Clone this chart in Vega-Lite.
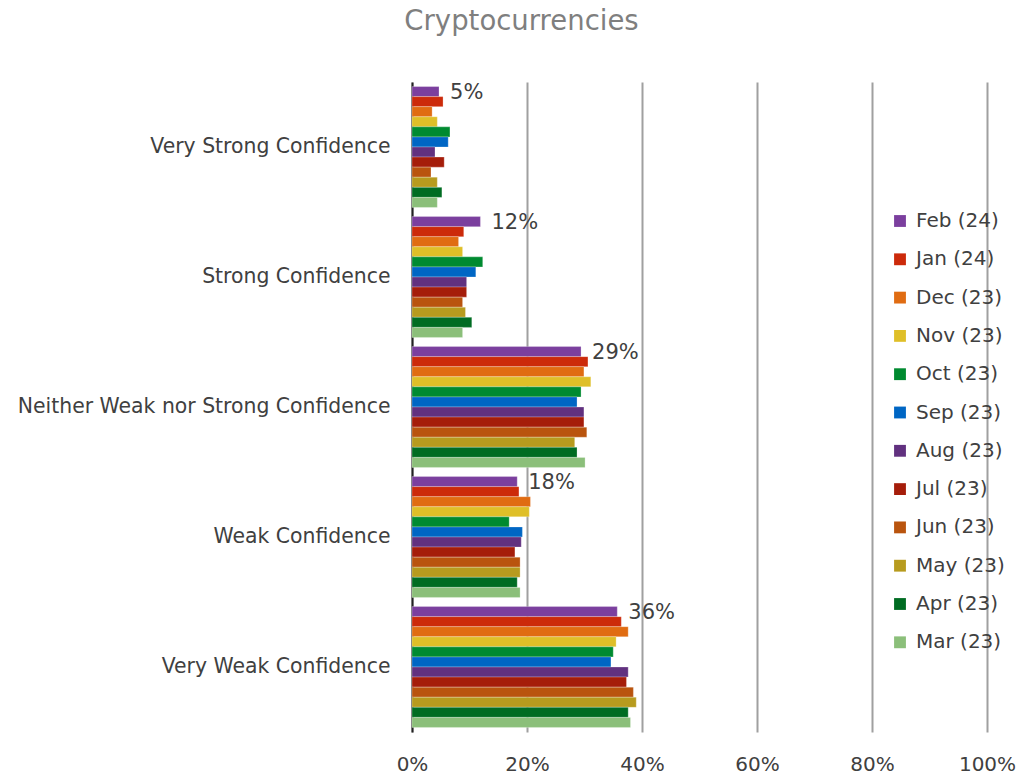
{
  "$schema": "https://vega.github.io/schema/vega-lite/v6.json",
  "width": 575,
  "height": 650,
  "autosize": "none",
  "padding": {"left": 412, "top": 82, "right": 33, "bottom": 46},
  "background": "white",
  "config": {
    "font": "DejaVu Sans",
    "view": {"stroke": null}
  },
  "title": {
    "text": "Cryptocurrencies",
    "fontSize": 27.5,
    "font": "DejaVu Sans",
    "fontWeight": "normal",
    "color": "#7F7F7F",
    "anchor": "middle",
    "dx": -178,
    "offset": 46
  },
  "data": {
    "values": [
      {"cat": "Very Strong Confidence", "month": "Feb (24)", "v": 0.047},
      {"cat": "Very Strong Confidence", "month": "Jan (24)", "v": 0.054},
      {"cat": "Very Strong Confidence", "month": "Dec (23)", "v": 0.035},
      {"cat": "Very Strong Confidence", "month": "Nov (23)", "v": 0.044},
      {"cat": "Very Strong Confidence", "month": "Oct (23)", "v": 0.066},
      {"cat": "Very Strong Confidence", "month": "Sep (23)", "v": 0.063},
      {"cat": "Very Strong Confidence", "month": "Aug (23)", "v": 0.040},
      {"cat": "Very Strong Confidence", "month": "Jul (23)", "v": 0.056},
      {"cat": "Very Strong Confidence", "month": "Jun (23)", "v": 0.033},
      {"cat": "Very Strong Confidence", "month": "May (23)", "v": 0.044},
      {"cat": "Very Strong Confidence", "month": "Apr (23)", "v": 0.052},
      {"cat": "Very Strong Confidence", "month": "Mar (23)", "v": 0.044},
      {"cat": "Strong Confidence", "month": "Feb (24)", "v": 0.119},
      {"cat": "Strong Confidence", "month": "Jan (24)", "v": 0.090},
      {"cat": "Strong Confidence", "month": "Dec (23)", "v": 0.081},
      {"cat": "Strong Confidence", "month": "Nov (23)", "v": 0.088},
      {"cat": "Strong Confidence", "month": "Oct (23)", "v": 0.123},
      {"cat": "Strong Confidence", "month": "Sep (23)", "v": 0.111},
      {"cat": "Strong Confidence", "month": "Aug (23)", "v": 0.095},
      {"cat": "Strong Confidence", "month": "Jul (23)", "v": 0.095},
      {"cat": "Strong Confidence", "month": "Jun (23)", "v": 0.088},
      {"cat": "Strong Confidence", "month": "May (23)", "v": 0.093},
      {"cat": "Strong Confidence", "month": "Apr (23)", "v": 0.104},
      {"cat": "Strong Confidence", "month": "Mar (23)", "v": 0.088},
      {"cat": "Neither Weak nor Strong Confidence", "month": "Feb (24)", "v": 0.294},
      {"cat": "Neither Weak nor Strong Confidence", "month": "Jan (24)", "v": 0.306},
      {"cat": "Neither Weak nor Strong Confidence", "month": "Dec (23)", "v": 0.299},
      {"cat": "Neither Weak nor Strong Confidence", "month": "Nov (23)", "v": 0.311},
      {"cat": "Neither Weak nor Strong Confidence", "month": "Oct (23)", "v": 0.294},
      {"cat": "Neither Weak nor Strong Confidence", "month": "Sep (23)", "v": 0.287},
      {"cat": "Neither Weak nor Strong Confidence", "month": "Aug (23)", "v": 0.299},
      {"cat": "Neither Weak nor Strong Confidence", "month": "Jul (23)", "v": 0.299},
      {"cat": "Neither Weak nor Strong Confidence", "month": "Jun (23)", "v": 0.304},
      {"cat": "Neither Weak nor Strong Confidence", "month": "May (23)", "v": 0.283},
      {"cat": "Neither Weak nor Strong Confidence", "month": "Apr (23)", "v": 0.287},
      {"cat": "Neither Weak nor Strong Confidence", "month": "Mar (23)", "v": 0.301},
      {"cat": "Weak Confidence", "month": "Feb (24)", "v": 0.183},
      {"cat": "Weak Confidence", "month": "Jan (24)", "v": 0.186},
      {"cat": "Weak Confidence", "month": "Dec (23)", "v": 0.206},
      {"cat": "Weak Confidence", "month": "Nov (23)", "v": 0.204},
      {"cat": "Weak Confidence", "month": "Oct (23)", "v": 0.169},
      {"cat": "Weak Confidence", "month": "Sep (23)", "v": 0.192},
      {"cat": "Weak Confidence", "month": "Aug (23)", "v": 0.190},
      {"cat": "Weak Confidence", "month": "Jul (23)", "v": 0.179},
      {"cat": "Weak Confidence", "month": "Jun (23)", "v": 0.188},
      {"cat": "Weak Confidence", "month": "May (23)", "v": 0.188},
      {"cat": "Weak Confidence", "month": "Apr (23)", "v": 0.183},
      {"cat": "Weak Confidence", "month": "Mar (23)", "v": 0.188},
      {"cat": "Very Weak Confidence", "month": "Feb (24)", "v": 0.357},
      {"cat": "Very Weak Confidence", "month": "Jan (24)", "v": 0.364},
      {"cat": "Very Weak Confidence", "month": "Dec (23)", "v": 0.376},
      {"cat": "Very Weak Confidence", "month": "Nov (23)", "v": 0.355},
      {"cat": "Very Weak Confidence", "month": "Oct (23)", "v": 0.350},
      {"cat": "Very Weak Confidence", "month": "Sep (23)", "v": 0.346},
      {"cat": "Very Weak Confidence", "month": "Aug (23)", "v": 0.376},
      {"cat": "Very Weak Confidence", "month": "Jul (23)", "v": 0.373},
      {"cat": "Very Weak Confidence", "month": "Jun (23)", "v": 0.385},
      {"cat": "Very Weak Confidence", "month": "May (23)", "v": 0.390},
      {"cat": "Very Weak Confidence", "month": "Apr (23)", "v": 0.376},
      {"cat": "Very Weak Confidence", "month": "Mar (23)", "v": 0.380}
    ]
  },
  "encoding": {
    "y": {
      "field": "cat",
      "type": "nominal",
      "sort": ["Very Strong Confidence", "Strong Confidence", "Neither Weak nor Strong Confidence", "Weak Confidence", "Very Weak Confidence"],
      "scale": {"paddingInner": 0.07, "paddingOuter": 0.035},
      "axis": {
        "title": null,
        "labelFontSize": 20.4,
        "labelColor": "#404040",
        "labelPadding": 22,
        "ticks": false,
        "domain": true,
        "domainColor": "#222222",
        "domainWidth": 2,
        "labelLimit": 400
      }
    },
    "x": {
      "field": "v",
      "type": "quantitative",
      "scale": {"domain": [0, 1], "nice": false},
      "axis": {
        "title": null,
        "format": ".0%",
        "values": [0, 0.2, 0.4, 0.6, 0.8, 1],
        "labelFontSize": 20,
        "labelColor": "#404040",
        "labelPadding": 22,
        "ticks": false,
        "domain": false,
        "grid": true,
        "gridColor": "#A0A0A0",
        "gridWidth": 2,
        "labelFlush": false
      }
    }
  },
  "layer": [
    {
      "mark": {"type": "bar", "stroke": "white", "strokeOpacity": 0.5, "strokeWidth": 0.5},
      "encoding": {
        "yOffset": {
          "field": "month",
          "type": "nominal",
          "sort": ["Feb (24)", "Jan (24)", "Dec (23)", "Nov (23)", "Oct (23)", "Sep (23)", "Aug (23)", "Jul (23)", "Jun (23)", "May (23)", "Apr (23)", "Mar (23)"],
          "scale": {"paddingInner": 0, "paddingOuter": 0}
        },
        "color": {
          "field": "month",
          "type": "nominal",
          "sort": ["Feb (24)", "Jan (24)", "Dec (23)", "Nov (23)", "Oct (23)", "Sep (23)", "Aug (23)", "Jul (23)", "Jun (23)", "May (23)", "Apr (23)", "Mar (23)"],
          "scale": {
            "domain": ["Feb (24)", "Jan (24)", "Dec (23)", "Nov (23)", "Oct (23)", "Sep (23)", "Aug (23)", "Jul (23)", "Jun (23)", "May (23)", "Apr (23)", "Mar (23)"],
            "range": ["#7B3F9E", "#CC2A0A", "#E06C12", "#DFBF28", "#008A30", "#0066C4", "#61317F", "#A51D0A", "#B9540E", "#B79B1E", "#006C22", "#8BBF7A"]
          },
          "legend": {
            "title": null,
            "orient": "none",
            "legendX": 478,
            "legendY": 129,
            "symbolType": "square",
            "symbolSize": 140,
            "symbolStrokeWidth": 0,
            "labelFontSize": 20,
            "labelColor": "#404040",
            "labelOffset": 6,
            "rowPadding": 18.3,
            "labelLimit": 200
          }
        }
      }
    },
    {
      "transform": [{"filter": "datum.month === 'Feb (24)'"}],
      "mark": {"type": "text", "align": "left", "baseline": "middle", "dx": 11, "dy": 1, "fontSize": 21, "color": "#404040"},
      "encoding": {
        "yOffset": {
          "field": "month",
          "type": "nominal",
          "sort": ["Feb (24)", "Jan (24)", "Dec (23)", "Nov (23)", "Oct (23)", "Sep (23)", "Aug (23)", "Jul (23)", "Jun (23)", "May (23)", "Apr (23)", "Mar (23)"],
          "scale": {"paddingInner": 0, "paddingOuter": 0}
        },
        "text": {"field": "v", "type": "quantitative", "format": ".0%"}
      }
    }
  ]
}
